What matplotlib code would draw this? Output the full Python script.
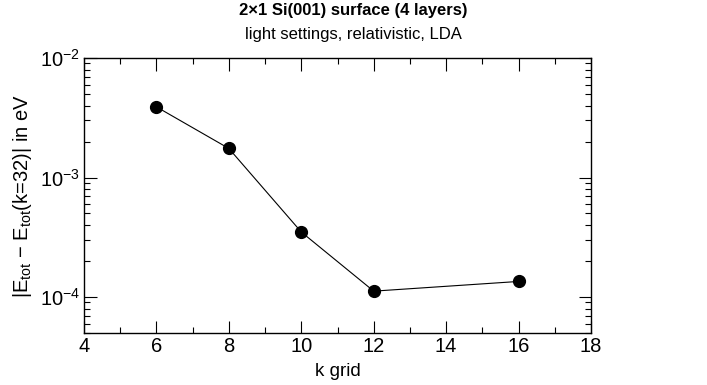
import matplotlib
matplotlib.use("Agg")
import matplotlib.pyplot as plt
from matplotlib.ticker import LogLocator, MultipleLocator, NullFormatter

plt.rcParams['font.family'] = ['Liberation Sans', 'DejaVu Sans']
plt.rcParams['mathtext.fontset'] = 'custom'
plt.rcParams['mathtext.rm'] = 'Liberation Sans'
plt.rcParams['mathtext.it'] = 'Liberation Sans'
plt.rcParams['mathtext.bf'] = 'Liberation Sans:bold'

k_grid = [6, 8, 10, 12, 16]
delta_e = [3.9e-3, 1.75e-3, 3.5e-4, 1.12e-4, 1.35e-4]

fig = plt.figure(figsize=(7.07, 3.85), dpi=100)
ax = fig.add_axes([84/707, 1-333/385, (591-84)/707, (333-58)/385])

ax.plot(k_grid, delta_e, color='black', lw=0.8, marker='o', ms=8.5,
        markerfacecolor='black', markeredgecolor='black')
ax.set_yscale('log')
ax.set_xlim(4, 18)
ax.set_ylim(5e-5, 1e-2)

ax.xaxis.set_major_locator(MultipleLocator(2))
ax.xaxis.set_minor_locator(MultipleLocator(1))
ax.yaxis.set_minor_locator(LogLocator(base=10, subs=range(2, 10), numticks=20))
ax.yaxis.set_minor_formatter(NullFormatter())
ax.set_yticks([1e-4, 1e-3, 1e-2])
ax.set_yticklabels([r'$10^{-4}$', r'$10^{-3}$', r'$10^{-2}$'])

ax.tick_params(which='both', direction='in', top=True, right=True, labelsize=14.5, width=0.8)
ax.tick_params(axis='x', which='major', length=9, pad=3)
ax.tick_params(axis='y', which='major', length=9, pad=3)
ax.tick_params(which='minor', length=4.5)
for s in ax.spines.values():
    s.set_linewidth(1.0)

ax.set_xlabel('k grid', fontsize=13.5, labelpad=5)
ax.set_ylabel(r'|E$_{\mathrm{tot}}$ − E$_{\mathrm{tot}}$(k=32)| in eV', fontsize=14.5, labelpad=4)

fig.text(0.5, 1-11/385, '2×1 Si(001) surface (4 layers)', ha='center', va='center',
         fontsize=12, fontweight='bold')
fig.text(0.5, 1-34/385, 'light settings, relativistic, LDA', ha='center', va='center',
         fontsize=12)

fig.savefig('out.png', dpi=100)
